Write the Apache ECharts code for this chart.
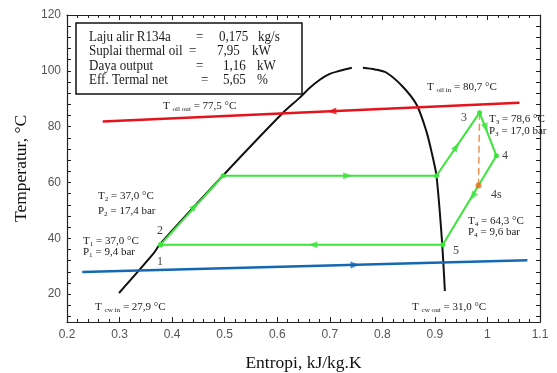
<!DOCTYPE html>
<html>
<head>
<meta charset="utf-8">
<script src="https://cdn.jsdelivr.net/npm/echarts@6/dist/echarts.min.js"></script>
<style>
  html, body { margin: 0; padding: 0; background: #fff; }
  #chart { width: 557px; height: 373px; }
</style>
</head>
<body>
<div id="chart"></div>
<script>
// saturation dome of R134a (entropy kJ/kg.K, temperature °C)
const domeLeftS = [0.299, 0.3635, 0.377, 0.497, 0.609, 0.643, 0.662, 0.681, 0.700, 0.719, 0.742]
const domeLeftT = [20.4, 34.3, 37.9, 62.5, 84.6, 90.4, 93.9, 96.8, 98.9, 100.0, 101.1]
const domeRightS = [0.763, 0.786, 0.808, 0.839, 0.865, 0.884, 0.896, 0.903, 0.913, 0.919]
const domeRightT = [101.1, 100.5, 99.3, 94.3, 87.9, 78.2, 69.0, 62.4, 40.4, 21.1]

// thermal oil (flows right -> left) and cooling water (left -> right)
const oilS = [1.061, 0.268]
const oilT = [88.6, 81.8]
const cwS = [0.229, 1.076]
const cwT = [27.9, 32.1]

// ORC cycle: 2 -> evap start -> evap end -> 3 -> 4 -> 5 -> 1
const cycleS = [0.378, 0.497, 0.903, 0.985, 1.017, 0.915, 0.378]
const cycleT = [37.7, 62.4, 62.4, 85.0, 69.6, 37.7, 37.7]
const isenS = [0.985, 0.983]   // 3 -> 4s
const isenT = [85.0, 58.9]

// flow arrows on each cycle segment
const arrowS = [0.443, 0.734, 0.941, 0.997, 0.972, 0.668]
const arrowT = [51.5, 62.4, 72.8, 79.6, 55.0, 37.7]
const oilArrow = [0.704, 85.5]
const cwArrow = [0.748, 30.5]

const yTicks = [20, 40, 60, 80, 100, 120]
const yMinor = [12, 16, 20, 24, 28, 32, 36, 40, 44, 48, 52, 56, 60, 64, 68, 72, 76, 80, 84, 88, 92, 96, 100, 104, 108, 112, 116, 120]

const boxLabels = ['Laju alir R134a', 'Suplai thermal oil', 'Daya output', 'Eff. Termal net']
const boxValues = ['0,175', '7,95', '1,16', '5,65']
const boxUnits = ['kg/s', 'kW', 'kW', '%']

const zip = (a, b) => a.map((v, i) => [v, b[i]])

const SERIF = 'Liberation Serif'
const GREEN = '#3ce43c'

const chart = echarts.init(document.getElementById('chart'))

// small helper for "T_sub = ..." labels
function subText(main, sub, rest, x, y, size) {
  size = size || 11
  return {
    type: 'text', x: x, y: y, z: 110,
    style: {
      text: '{m|' + main + '}{s|' + sub + '}{m|' + rest + '}',
      verticalAlign: 'middle',
      rich: {
        m: { fontFamily: SERIF, fontSize: size, fill: '#1a1a1a', lineHeight: size + 3 },
        s: { fontFamily: SERIF, fontSize: size * 0.65, fill: '#1a1a1a', lineHeight: size + 3, verticalAlign: 'bottom' }
      }
    }
  }
}
function plainText(t, x, y, size, color, sx) {
  return {
    type: 'text', x: x, y: y, z: 110, scaleX: sx || 1,
    style: { text: t, fontFamily: SERIF, fontSize: size, fill: color || '#1a1a1a', verticalAlign: 'middle' }
  }
}

// info box, text is a bit condensed in the original
const boxRowY = [37, 51, 66, 80]
const eqX = [196, 189, 196, 201]
const valX = [219, 217, 223, 223]
const unitX = [258, 252, 257, 257]
const boxItems = [
  { type: 'rect', z: 100, shape: { x: 76, y: 23, width: 226, height: 71 },
    style: { fill: '#fff', stroke: '#111', lineWidth: 1.5 } }
]
boxLabels.forEach((l, i) => {
  boxItems.push(plainText(l, 89, boxRowY[i], 15, null, 0.87))
  boxItems.push(plainText('=', eqX[i], boxRowY[i], 15, null, 0.87))
  boxItems.push(plainText(boxValues[i], valX[i], boxRowY[i], 15, null, 0.87))
  boxItems.push(plainText(boxUnits[i], unitX[i], boxRowY[i], 15, null, 0.87))
})

const axisBase = {
  type: 'value',
  axisLine: { lineStyle: { color: '#222', width: 1.2 } },
  splitLine: { show: false },
  axisTick: { inside: true, length: 5, lineStyle: { color: '#222' } },
  minorTick: { show: true, splitNumber: 5, length: 3, lineStyle: { color: '#222' } }
}
const labelStyle = { color: '#555', fontSize: 12, fontFamily: 'Liberation Sans' }

option = {
  animation: false,
  backgroundColor: '#fff',
  grid: { left: 67, right: 17, top: 15, bottom: 51, outerBoundsMode: 'none' },
  xAxis: [
    Object.assign({}, axisBase, {
      min: 0.2, max: 1.1, interval: 0.1, position: 'bottom',
      axisLabel: Object.assign({ margin: 7 }, labelStyle),
      name: 'Entropi, kJ/kg.K', nameLocation: 'middle', nameGap: 32,
      nameTextStyle: { fontFamily: SERIF, fontSize: 17.5, color: '#111' }
    }),
    Object.assign({}, axisBase, {
      min: 0.2, max: 1.1, interval: 0.1, position: 'top', axisLabel: { show: false }
    })
  ],
  yAxis: [
    Object.assign({}, axisBase, {
      min: 10, max: 120, position: 'left',
      axisTick: { inside: true, length: 4, customValues: yMinor, lineStyle: { color: '#222' } },
      minorTick: { show: false },
      axisLabel: Object.assign({ margin: 6, customValues: yTicks }, labelStyle),
      name: 'Temperatur, °C', nameLocation: 'middle', nameGap: 33,
      nameTextStyle: { fontFamily: SERIF, fontSize: 17.5, color: '#111' }
    }),
    Object.assign({}, axisBase, {
      min: 10, max: 120, position: 'right',
      axisTick: { inside: true, length: 4, customValues: yMinor, lineStyle: { color: '#222' } },
      minorTick: { show: false },
      axisLabel: { show: false }
    })
  ],
  graphic: boxItems.concat([
    subText('T ', 'oil out', ' = 77,5 °C', 163, 106),
    subText('T ', 'oil in', ' = 80,7 °C', 427, 87),
    plainText('3', 461, 118, 12, '#444'),
    subText('T', '3', ' = 78,6 °C', 489, 119),
    subText('P', '3', ' = 17,0 bar', 489, 131),
    plainText('4', 502, 156, 12, '#444'),
    plainText('4s', 491, 195, 12, '#444'),
    subText('T', '4', ' = 64,3 °C', 468, 221),
    subText('P', '4', ' = 9,6 bar', 468, 232),
    plainText('5', 453, 251, 12, '#444'),
    subText('T ', 'cw out', ' = 31,0 °C', 412, 307),
    subText('T', '2', ' = 37,0 °C', 98, 196),
    subText('P', '2', ' = 17,4 bar', 98, 211),
    plainText('2', 157, 231, 12, '#444'),
    subText('T', '1', ' = 37,0 °C', 83, 241),
    subText('P', '1', ' = 9,4 bar', 83, 252),
    plainText('1', 157, 262, 12, '#444'),
    subText('T ', 'cw in', ' = 27,9 °C', 95, 307)
  ]),
  series: [
    { type: 'line', data: zip(domeLeftS, domeLeftT), smooth: 0.3, showSymbol: false,
      lineStyle: { color: '#111', width: 2 }, z: 2 },
    { type: 'line', data: zip(domeRightS, domeRightT), smooth: 0.3, showSymbol: false,
      lineStyle: { color: '#111', width: 2 }, z: 2 },
    { type: 'line', data: zip(oilS, oilT), showSymbol: false,
      lineStyle: { color: '#e5141c', width: 2.5 }, z: 3 },
    { type: 'line', data: zip(cwS, cwT), showSymbol: false,
      lineStyle: { color: '#1468b3', width: 2.5 }, z: 3 },
    { type: 'line', data: zip(isenS, isenT), showSymbol: false,
      lineStyle: { color: '#ef9050', width: 1.5, type: [7, 4] }, z: 4 },
    { type: 'line', data: zip(cycleS, cycleT), symbol: 'circle', symbolSize: 5, showSymbol: true,
      itemStyle: { color: GREEN }, lineStyle: { color: GREEN, width: 2 }, z: 5 },
    { type: 'scatter', data: [[isenS[1], isenT[1]]], symbol: 'circle', symbolSize: 6,
      itemStyle: { color: '#ec6a1c' }, z: 6 },
    { id: 'arrG', type: 'scatter', data: zip(arrowS, arrowT), symbol: 'triangle', symbolSize: [7, 9],
      itemStyle: { color: GREEN }, z: 6 },
    { id: 'arrO', type: 'scatter', data: [oilArrow], symbol: 'triangle', symbolSize: [7, 9],
      itemStyle: { color: '#e5141c' }, z: 6 },
    { id: 'arrC', type: 'scatter', data: [cwArrow], symbol: 'triangle', symbolSize: [7, 9],
      itemStyle: { color: '#1468b3' }, z: 6 }
  ]
}

option && chart.setOption(option)

// rotate arrow heads along their segment, measured in pixels
function angleOf(a, b) {
  const pa = chart.convertToPixel({ gridIndex: 0 }, a)
  const pb = chart.convertToPixel({ gridIndex: 0 }, b)
  return -Math.atan2(pb[0] - pa[0], -(pb[1] - pa[1])) * 180 / Math.PI
}
const greenArrows = arrowS.map((s, i) => ({
  value: [s, arrowT[i]],
  symbolRotate: angleOf([cycleS[i], cycleT[i]], [cycleS[i + 1], cycleT[i + 1]])
}))
chart.setOption({
  series: [
    { id: 'arrG', data: greenArrows },
    { id: 'arrO', data: [{ value: oilArrow, symbolRotate: angleOf([oilS[0], oilT[0]], [oilS[1], oilT[1]]) }] },
    { id: 'arrC', data: [{ value: cwArrow, symbolRotate: angleOf([cwS[0], cwT[0]], [cwS[1], cwT[1]]) }] }
  ]
})
</script>
</body>
</html>
